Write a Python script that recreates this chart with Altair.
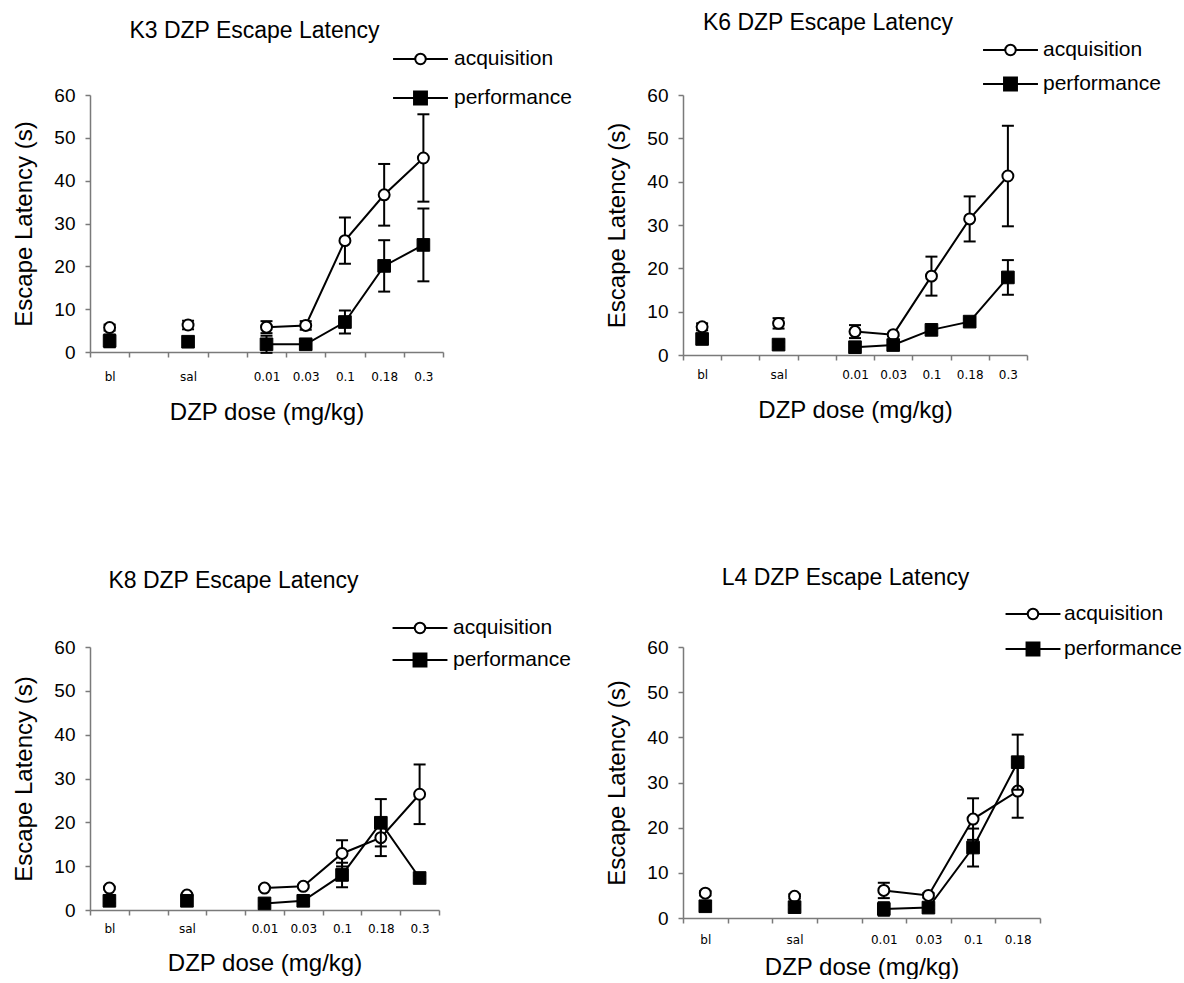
import altair as alt
import pandas as pd

# ---------------- data ----------------
CATS9 = ["bl", "gap1", "sal", "gap2", "0.01", "0.03", "0.1", "0.18", "0.3"]
CATS8 = ["bl", "gap1", "sal", "gap2", "0.01", "0.03", "0.1", "0.18"]

doses7 = ["bl", "sal", "0.01", "0.03", "0.1", "0.18", "0.3"]
doses6 = ["bl", "sal", "0.01", "0.03", "0.1", "0.18"]

k3_acq = [5.7, 6.3, 5.8, 6.2, 26.0, 36.7, 45.3]
k3_acq_err = [0.7, 1.0, 1.4, 1.0, 5.4, 7.2, 10.2]
k3_perf = [2.6, 2.4, 1.8, 1.8, 7.0, 20.1, 25.0]
k3_perf_err = [1.5, 1.0, 2.0, 0.5, 2.7, 6.0, 8.5]

k6_acq = [6.5, 7.3, 5.4, 4.7, 18.2, 31.4, 41.3]
k6_acq_err = [0.8, 1.2, 1.5, 0.3, 4.5, 5.2, 11.6]
k6_perf = [3.7, 2.4, 1.8, 2.3, 5.8, 7.7, 17.9]
k6_perf_err = [1.0, 0.5, 0.5, 0.5, 0.6, 0.6, 4.0]

k8_acq = [5.0, 3.4, 5.0, 5.4, 12.9, 16.5, 26.4]
k8_acq_err = [0.3, 0.3, 0.3, 0.3, 3.0, 4.2, 6.8]
k8_perf = [2.1, 2.1, 1.5, 2.1, 8.0, 19.9, 7.3]
k8_perf_err = [0.5, 0.5, 0.5, 0.5, 2.8, 5.4, 0.5]

l4_acq = [5.5, 4.8, 6.1, 5.0, 21.9, 28.1]
l4_acq_err = [0.5, 0.5, 1.7, 0.5, 4.6, 5.9]
l4_perf = [2.6, 2.4, 2.0, 2.3, 15.6, 34.5]
l4_perf_err = [0.8, 0.5, 1.5, 0.5, 4.2, 6.1]

SERIES = ["acquisition", "performance"]
Y_TICKS = [0, 10, 20, 30, 40, 50, 60]

# legend symbols: line with marker (custom symbol paths)
LN, CR, SQ = 1.83, 0.35, 0.43
K = round(0.5523 * CR, 4)
ACQ_PATH = (f"M{-LN},0L{-CR},0M{CR},0L{LN},0"
            f"M{CR},0C{CR},{K} {K},{CR} 0,{CR}C{-K},{CR} {-CR},{K} {-CR},0"
            f"C{-CR},{-K} {-K},{-CR} 0,{-CR}C{K},{-CR} {CR},{-K} {CR},0Z")
PERF_PATH = f"M{-LN},0L{LN},0M{-SQ},{-SQ}L{SQ},{-SQ}L{SQ},{SQ}L{-SQ},{SQ}Z"

FONT = "Liberation Sans"


def make_df(doses, acq, acq_err, perf, perf_err):
    rows = []
    for i, d in enumerate(doses):
        for s, m, e in (("acquisition", acq[i], acq_err[i]),
                        ("performance", perf[i], perf_err[i])):
            rows.append(dict(dose=d, series=s, mean=m, lo=m - e, hi=m + e,
                             isdose=d not in ("bl", "sal")))
    return pd.DataFrame(rows)


def panel(title, cats, df, w, h, st):
    xaxis = alt.Axis(
        labelExpr="indexof(datum.label, 'gap') == 0 ? '' : datum.label",
        labelAngle=0, tickBand="extent", tickSize=5, labelPadding=st["lp"],
        labelFont="DejaVu Sans", labelFontSize=12, titleFont=FONT,
        titleFontSize=24, titlePadding=st["tp"], titleFontWeight="normal",
        domainColor="#7a7a7a", tickColor="#7a7a7a", domainWidth=1.5, tickWidth=1.5,
        labelColor="black", titleColor="black", grid=False)
    x = alt.X("dose:N", sort=cats,
              scale=alt.Scale(domain=cats, paddingInner=0, paddingOuter=0),
              axis=xaxis, title="DZP dose (mg/kg)")
    yscale = alt.Scale(domain=[0, 60], nice=False, zero=True)
    yaxis = alt.Axis(values=Y_TICKS, tickSize=5, labelPadding=10, labelFont=FONT,
                     labelFontSize=19, titleFont=FONT, titleFontSize=24,
                     titlePadding=17, titleFontWeight="normal", grid=False,
                     domainColor="#7a7a7a", tickColor="#7a7a7a", domainWidth=1.5,
                     tickWidth=1.5, labelColor="black", titleColor="black")
    ytitle = "Escape Latency (s)"
    base = alt.Chart(df).encode(x=x)

    layers = []
    for s in SERIES:
        sb = base.transform_filter(alt.datum.series == s)
        rule = sb.mark_rule(color="black", strokeWidth=2).encode(
            y=alt.Y("lo:Q", scale=yscale, axis=yaxis, title=ytitle), y2="hi:Q")
        cap_lo = sb.mark_tick(orient="horizontal", size=12, thickness=2,
                              color="black", opacity=1).encode(
            y=alt.Y("lo:Q", scale=yscale, axis=yaxis, title=ytitle))
        cap_hi = sb.mark_tick(orient="horizontal", size=12, thickness=2,
                              color="black", opacity=1).encode(
            y=alt.Y("hi:Q", scale=yscale, axis=yaxis, title=ytitle))
        line = sb.transform_filter(alt.datum.isdose).mark_line(
            color="black", strokeWidth=2).encode(
            y=alt.Y("mean:Q", scale=yscale, axis=yaxis, title=ytitle))
        if s == "acquisition":
            pts = sb.mark_point(shape="circle", filled=True, fill="white",
                                stroke="black", strokeWidth=2, size=120, opacity=1)
        else:
            pts = sb.mark_point(shape="square", filled=True, fill="black",
                                stroke="black", strokeWidth=1, size=160, opacity=1)
        pts = pts.encode(y=alt.Y("mean:Q", scale=yscale, axis=yaxis, title=ytitle))
        layers += [rule, cap_lo, cap_hi, line, pts]

    leg = alt.Legend(title=None, orient="none", legendX=st["lx"], legendY=st["ly"],
                     symbolSize=900, symbolStrokeWidth=2,
                     labelFont=FONT, labelFontSize=21, labelColor="black",
                     labelOffset=st["lo"], rowPadding=st["rp"], padding=0)
    legend_layer = base.transform_filter("false").mark_point(
        filled=False, color="black", strokeWidth=2, size=900, opacity=1).encode(
        y=alt.Y("mean:Q", scale=yscale, axis=yaxis, title=ytitle),
        fill=alt.Fill("series:N", scale=alt.Scale(domain=SERIES, range=["white", "black"]),
                      legend=leg),
        shape=alt.Shape("series:N", scale=alt.Scale(domain=SERIES, range=[ACQ_PATH, PERF_PATH]),
                        legend=leg))
    layers.append(legend_layer)

    return alt.layer(*layers).properties(
        width=w, height=h,
        title=alt.TitleParams(text=title, font=FONT, fontSize=23, fontWeight="normal",
                              color="black", anchor="middle", frame="group",
                              dx=st["tdx"], dy=st["tdy"], offset=st["toff"]))


p1 = panel("K3 DZP Escape Latency", CATS9,
           make_df(doses7, k3_acq, k3_acq_err, k3_perf, k3_perf_err), 353, 257,
           dict(lp=14, tp=18, lx=314.5, ly=-52, lo=17.5, rp=13, tdx=-12, tdy=4, toff=4))
p2 = panel("K6 DZP Escape Latency", CATS9,
           make_df(doses7, k6_acq, k6_acq_err, k6_perf, k6_perf_err), 344, 260,
           dict(lp=9, tp=18, lx=311.5, ly=-61, lo=16.5, rp=8, tdx=-27, tdy=3, toff=2))
p3 = panel("K8 DZP Escape Latency", CATS9,
           make_df(doses7, k8_acq, k8_acq_err, k8_perf, k8_perf_err), 349, 263,
           dict(lp=8, tp=17, lx=314, ly=-35, lo=17, rp=6, tdx=-31, tdy=3, toff=22))
p4 = panel("L4 DZP Escape Latency", CATS8,
           make_df(doses6, l4_acq, l4_acq_err, l4_perf, l4_perf_err), 357, 271,
           dict(lp=11, tp=10, lx=334, ly=-49, lo=15, rp=9, tdx=-16, tdy=3, toff=11))

chart = alt.concat(p1, p2, p3, p4, columns=2, spacing={"row": 281, "column": 236},
                   bounds="flush", align="all").resolve_scale(
    fill="independent", shape="independent").resolve_legend(
    fill="independent", shape="independent").properties(
    padding={"left": 12, "top": 12, "right": 0, "bottom": 0},
    background="white").configure_view(stroke=None)

chart.save("out.html", embed_options={"renderer": "svg", "actions": False})
